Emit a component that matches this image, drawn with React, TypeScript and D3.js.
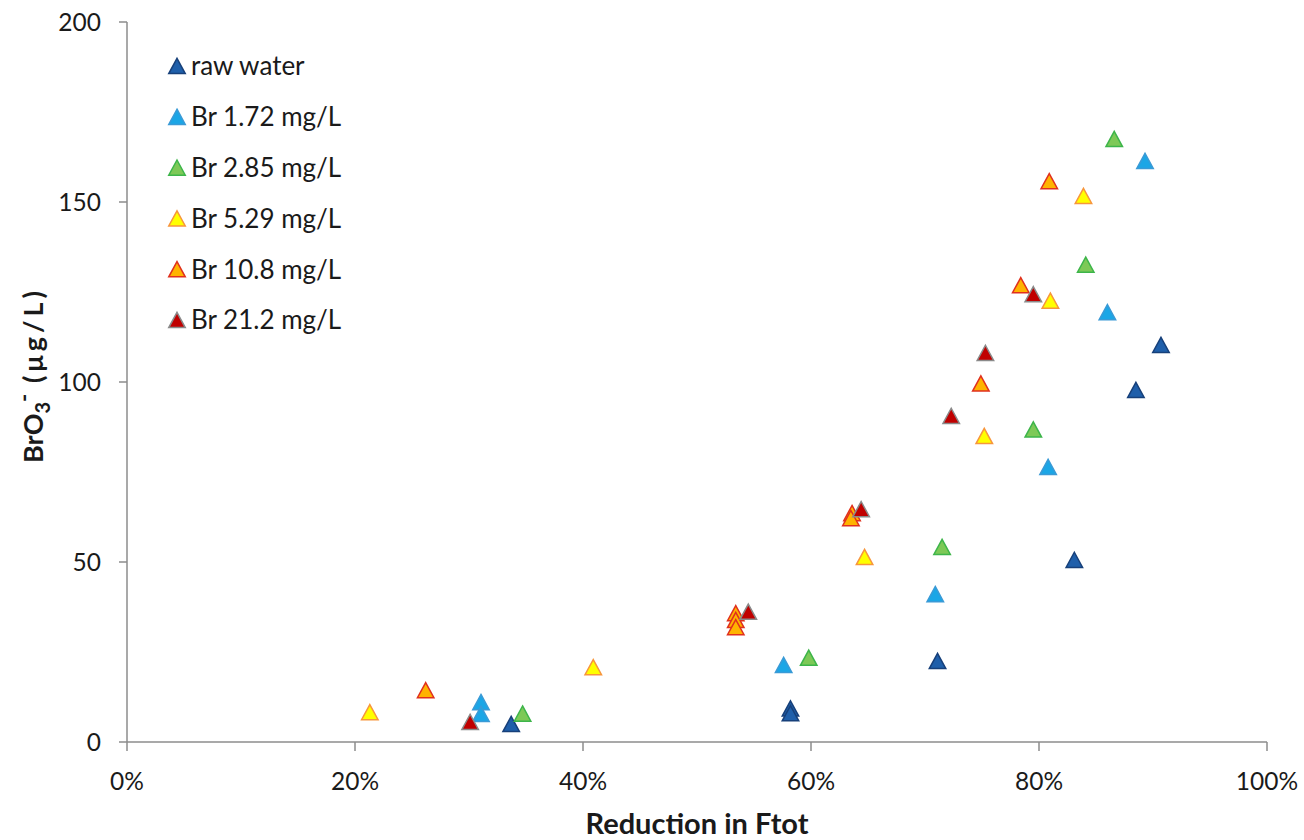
import React from "react";
import * as d3 from "d3";

const seriesNames = ["raw water", "Br 1.72 mg/L", "Br 2.85 mg/L", "Br 5.29 mg/L", "Br 10.8 mg/L", "Br 21.2 mg/L"];
const fills = ["#1F5FAA", "#1BA6E6", "#7DC957", "#FFFF00", "#FFB300", "#C00000"];
const strokes = ["#17407A", "#3A9AD6", "#3DB54A", "#F7963C", "#E0301E", "#8A8A8A"];

const rawX = [33.7, 58.2, 58.2, 71.1, 83.1, 88.5, 90.7];
const rawY = [5.0, 9.3, 8.0, 22.5, 50.6, 97.8, 110.3];
const br172X = [31.05, 31.05, 57.6, 70.9, 80.8, 86.0, 89.3];
const br172Y = [11.1, 7.8, 21.4, 41.1, 76.4, 119.4, 161.4];
const br285X = [34.7, 59.8, 71.5, 79.5, 84.1, 86.6];
const br285Y = [7.9, 23.4, 54.2, 86.8, 132.6, 167.5];
const br529X = [21.3, 40.9, 64.7, 75.2, 81.0, 83.9];
const br529Y = [8.3, 20.8, 51.4, 85.0, 122.6, 151.7];
const br108X = [26.2, 53.4, 53.4, 53.4, 63.6, 63.5, 74.9, 78.4, 80.9];
const br108Y = [14.4, 35.8, 33.9, 31.9, 63.6, 62.2, 99.6, 126.9, 155.8];
const br212X = [30.1, 54.5, 64.4, 72.3, 75.3, 79.5];
const br212Y = [5.6, 36.2, 64.7, 90.6, 108.1, 124.4];

const xTicks = [0, 20, 40, 60, 80, 100];
const yTicks = [0, 50, 100, 150, 200];

const seriesX = [rawX, br172X, br285X, br529X, br108X, br212X];
const seriesY = [rawY, br172Y, br285Y, br529Y, br108Y, br212Y];

const tri = {
  draw(ctx: any, size: number) {
    const w = Math.sqrt(size);
    const h = w * 0.92;
    ctx.moveTo(0, -h / 2);
    ctx.lineTo(w / 2, h / 2);
    ctx.lineTo(-w / 2, h / 2);
    ctx.closePath();
  },
};

const FONT = "Lato, 'Open Sans', sans-serif";

export default function App() {
  const x = d3.scaleLinear().domain([0, 100]).range([127, 1267]);
  const y = d3.scaleLinear().domain([0, 200]).range([742, 22]);
  const sym = d3.symbol().type(tri as any).size(16.5 * 16.5);
  const path = sym() as string;
  const axisColor = "#8C8C8C";

  return (
    <svg width={1304} height={840} style={{ position: "absolute", left: 0, top: 0, background: "#fff" }}>
      {/* axes */}
      <line x1={x(0)} x2={x(0)} y1={y(200)} y2={y(0)} stroke={axisColor} strokeWidth={1.5} />
      <line x1={x(0)} x2={x(100)} y1={y(0)} y2={y(0)} stroke={axisColor} strokeWidth={1.5} />
      {yTicks.map((t) => (
        <g key={"yt" + t}>
          <line x1={x(0) - 8} x2={x(0)} y1={y(t)} y2={y(t)} stroke={axisColor} strokeWidth={1.5} />
          <text x={101} y={y(t)} dy="0.36em" textAnchor="end" fontFamily={FONT} fontSize={24.5} fill="#1a1a1a">
            {t}
          </text>
        </g>
      ))}
      {xTicks.map((t) => (
        <g key={"xt" + t}>
          <line x1={x(t)} x2={x(t)} y1={y(0)} y2={y(0) + 9} stroke={axisColor} strokeWidth={1.5} />
          <text x={x(t)} y={790} textAnchor="middle" fontFamily={FONT} fontSize={24.5} fill="#1a1a1a">
            {t + "%"}
          </text>
        </g>
      ))}
      <text x={697} y={834} textAnchor="middle" fontFamily={FONT} fontSize={29} fontWeight="bold" fill="#1a1a1a">
        Reduction in Ftot
      </text>
      <text transform="translate(43,375) rotate(-90)" textAnchor="middle" fontFamily={FONT} fontSize={27} fontWeight="bold" fill="#1a1a1a">
        BrO<tspan dy="7" fontSize={20}>3</tspan>
        <tspan dy="-18" fontSize={22}>-</tspan>
        <tspan dy="11" letterSpacing={4}> (μg/L)</tspan>
      </text>

      {/* points */}
      {seriesX.map((xs, si) =>
        xs.map((xv, i) => (
          <path
            key={si + "-" + i}
            d={path}
            transform={`translate(${x(xv)},${y(seriesY[si][i])})`}
            fill={fills[si]}
            stroke={strokes[si]}
            strokeWidth={1.5}
          />
        ))
      )}

      {/* legend */}
      {seriesNames.map((n, i) => {
        const ly = 66 + i * 50.8;
        return (
          <g key={"lg" + i}>
            <path d={path} transform={`translate(177,${ly})`} fill={fills[i]} stroke={strokes[i]} strokeWidth={1.5} />
            <text x={191} y={ly} dy="0.36em" fontFamily={FONT} fontSize={26} fill="#1a1a1a">
              {n}
            </text>
          </g>
        );
      })}
    </svg>
  );
}
